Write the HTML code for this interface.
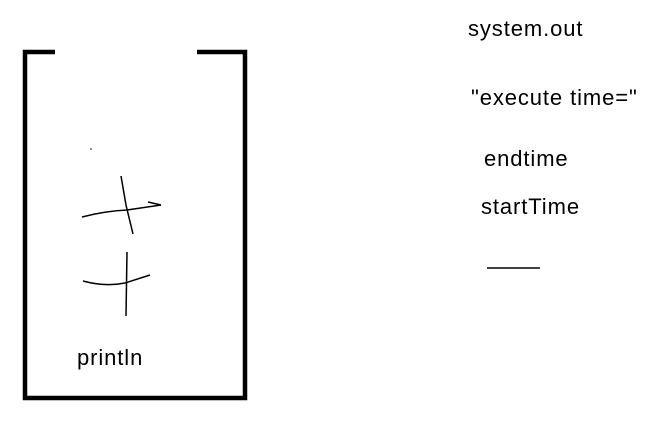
<!DOCTYPE html>
<html><head><style>
body{margin:0;width:655px;height:427px;background:#fff;overflow:hidden;position:relative;font-family:"Liberation Sans","Noto Sans CJK SC",sans-serif;color:#000}
.t{position:absolute;font-size:22px;letter-spacing:0.9px;line-height:1;white-space:nowrap}
</style></head><body>
<svg width="655" height="427" style="position:absolute;left:0;top:0">
<g stroke="#000" fill="none" stroke-width="4.5">
<polyline points="55,52 25,52 25,398 245,398 245,52 197,52"/>
</g>
<g stroke="#000" fill="none" stroke-width="1.5">
<path d="M121,176 L126,205 L133,234"/>
<path d="M82,217 Q105,211 127,210 L161,205"/>
<path d="M148,202 L161,205"/>
<path d="M127,252 L126,316"/>
<path d="M83,281 Q105,287 125,283 L150,275"/>
<path d="M487,268 L540,268"/>
</g>
<circle cx="91" cy="149" r="0.8" fill="#000"/>
</svg>
<div class="t" style="left:468px;top:18px">system.out</div>
<div class="t" style="left:471px;top:87px">"execute time="</div>
<div class="t" style="left:484px;top:148px">endtime</div>
<div class="t" style="left:481px;top:196px">startTime</div>
<div class="t" style="left:77px;top:347px">println</div>
</body></html>
